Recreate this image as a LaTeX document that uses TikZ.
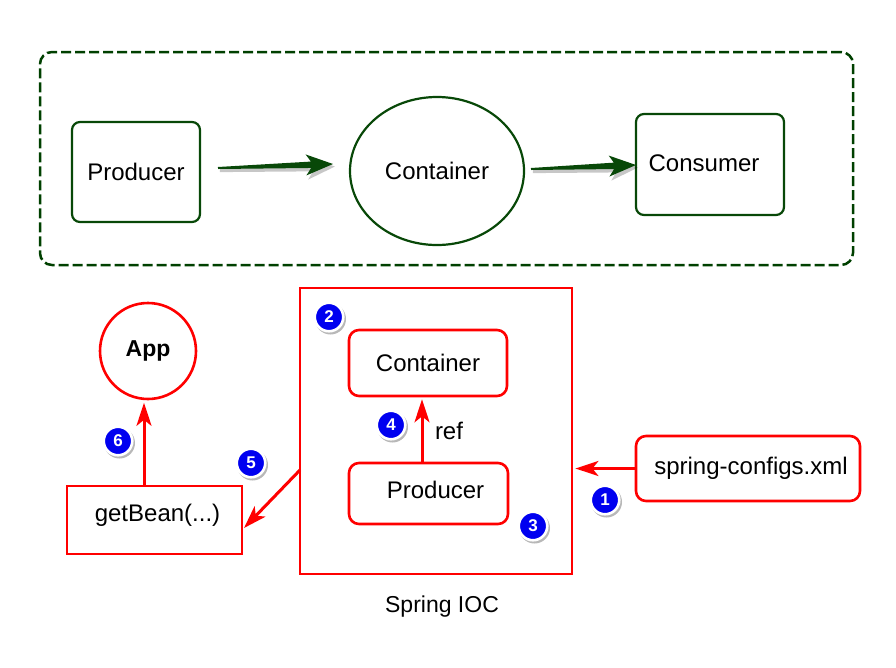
\documentclass[tikz,border=0pt]{standalone}
\usepackage{fontspec}
\setmainfont{Liberation Sans}
\usetikzlibrary{arrows.meta,calc,shadows,shapes.geometric}
\definecolor{dkgreen}{RGB}{8,72,8}
\definecolor{dashgreen}{RGB}{0,64,0}
\definecolor{numblue}{RGB}{0,0,240}
\newcommand\fatarrow[2]{%
  \coordinate (fa-s) at ($(#2)!22pt!(#1)$);
  \coordinate (fa-b) at ($(#2)!27pt!(#1)$);
  \fill[black, opacity=0.22, transform canvas={shift={(1.8pt,-2.6pt)}}]
    ($(#1)!1.5pt!90:(#2)$) -- ($(fa-s)!4pt!-90:(#1)$) -- ($(fa-b)!12pt!-90:(#1)$) -- (#2)
    -- ($(fa-b)!12pt!90:(#1)$) -- ($(fa-s)!4pt!90:(#1)$) -- ($(#1)!1.5pt!-90:(#2)$) -- cycle;
  \fill[dkgreen]
    ($(#1)!1pt!90:(#2)$) -- ($(fa-s)!3.2pt!-90:(#1)$) -- ($(fa-b)!10.5pt!-90:(#1)$) -- (#2)
    -- ($(fa-b)!10.5pt!90:(#1)$) -- ($(fa-s)!3.2pt!90:(#1)$) -- ($(#1)!1pt!-90:(#2)$) -- cycle;}
\begin{document}
\begin{tikzpicture}[x=1pt,y=-1pt,
  lbl/.style={font=\fontsize{24}{28}\selectfont, inner sep=0pt},
  greenbox/.style={draw=dkgreen, line width=2.2pt, rounded corners=8pt, inner sep=0pt, font=\fontsize{24}{28}\selectfont},
  redbox/.style={draw=red, line width=2.6pt, rounded corners=10pt, inner sep=0pt, font=\fontsize{24}{28}\selectfont},
  numc/.style={circle, fill=numblue, draw=white, line width=2.6pt, minimum size=28.5pt, inner sep=0pt, text=white,
    font={\bfseries\fontsize{17}{17}\selectfont}},
  numshadow/.style={circle, fill=black, opacity=0.28, minimum size=31pt, inner sep=0pt},
  redarrow/.style={draw=red, line width=3pt, -{Stealth[length=23pt,width=15pt,inset=6pt]}}
]
\useasboundingbox (0,0) rectangle (896,667);

% top frame
\node[draw=dashgreen, line width=2.5pt, dash pattern=on 10pt off 4pt, rounded corners=12pt,
      minimum width=813pt, minimum height=213pt, inner sep=0pt] (frame) at (446.5,158.5) {};

\node[greenbox, minimum width=128pt, minimum height=100pt] (prod) at (136,172) {Producer};
\node[ellipse, draw=dkgreen, line width=2.2pt, minimum width=174pt, minimum height=148pt, inner sep=0pt,
      font=\fontsize{24}{28}\selectfont] (cont) at (437,171) {Container};
\node[greenbox, minimum width=148pt, minimum height=101pt,
      label={[lbl, xshift=-6pt, yshift=1pt]center:Consumer}] (cons) at (710,164.5) {};

\coordinate (t1) at (218,168); \coordinate (h1) at (333,164);
\coordinate (t2) at (531,169); \coordinate (h2) at (636,165);
\fatarrow{t1}{h1}
\fatarrow{t2}{h2}

% bottom
\node[draw=red, line width=2.8pt, minimum width=272pt, minimum height=286pt, inner sep=0pt] (ioc) at (436,431) {};
\node[font=\fontsize{23}{28}\selectfont, inner sep=0pt] (ioclbl) at (442,607) {Spring IOC};

\node[redbox, minimum width=158pt, minimum height=66pt] (cont2) at (428,363) {Container};
\node[redbox, minimum width=159pt, minimum height=61pt,
      label={[lbl, xshift=7pt, yshift=4pt]center:Producer}] (prod2) at (428.5,493.5) {};
\node[redbox, minimum width=224pt, minimum height=65pt,
      label={[lbl, xshift=3pt]center:spring-configs.xml}] (spring) at (748,468.5) {};
\node[redbox, sharp corners, minimum width=175pt, minimum height=68pt,
      label={[lbl, xshift=3pt, yshift=5pt]center:getBean(...)}] (gb) at (154.5,520) {};
\node[circle, draw=red, line width=2.6pt, minimum size=96pt, inner sep=0pt,
      font={\bfseries\fontsize{23}{28}\selectfont}] (app) at (148,351) {App};

\coordinate (refx) at (422,0);
\coordinate (appx) at (144,0);
\coordinate (c5s) at (300,470);
\coordinate (c5e) at (244,528);

\draw[redarrow, shorten >=2pt] (spring.west) -- (ioc.east |- spring.west);
\draw[redarrow] (c5s) -- (c5e);
\draw[redarrow, shorten >=2pt] (prod2.north -| refx) -- (cont2.south -| refx);
\draw[redarrow, shorten >=2.5pt] (gb.north -| appx) -- (app.south -| appx);

\node[lbl] (ref) at (449,431) {ref};

\foreach \nm/\px/\py/\t in {n1/605/500/1, n2/329/317/2, n3/533/526/3, n4/391/425/4, n5/251/463/5, n6/118/441/6}{
  \node[numshadow] (\nm s) at (\px+1.5,\py+2) {};
  \node[numc] (\nm) at (\px,\py) {\t};
}
\end{tikzpicture}
\end{document}
